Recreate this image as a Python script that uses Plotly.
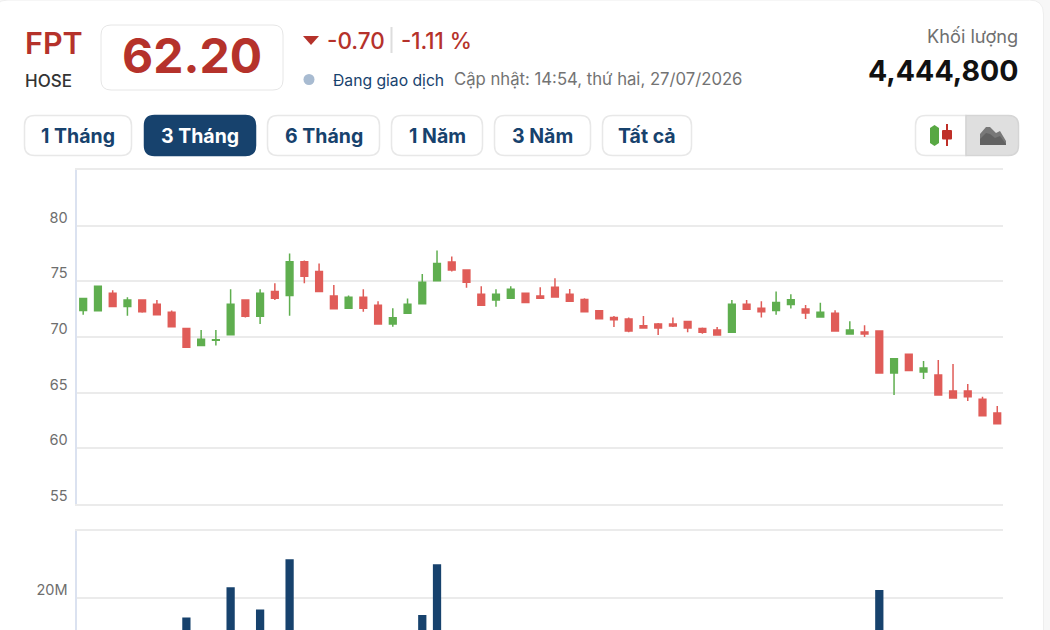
import plotly.graph_objects as go

W, H = 1050, 630

# Daily price sessions: green when close >= open, red otherwise
opens = [72.38, 72.35, 73.93, 72.74, 73.33, 72.95, 72.23, 70.77, 69.23, 69.70, 70.21, 73.33, 71.87, 74.08, 73.72,
         76.76, 75.89, 73.69, 72.59, 73.57, 72.86, 71.16, 72.14, 72.98, 75.06, 76.73, 76.01, 73.84, 73.33, 73.48,
         73.93, 73.69, 74.46, 73.84, 73.36, 72.35, 71.76, 71.61, 71.01, 71.16, 71.16, 71.40, 70.77, 70.63, 70.42,
         72.95, 72.59, 72.38, 72.93, 72.51, 71.80, 72.13, 70.27, 70.45, 70.54, 66.77, 68.44, 66.86, 66.59, 65.15,
         65.15, 64.40, 63.17]
highs = [73.45, 74.55, 74.20, 73.57, 73.33, 73.33, 72.38, 70.77, 70.63, 70.63, 74.29, 73.33, 74.29, 74.82, 77.50,
         76.88, 76.60, 74.67, 73.72, 74.29, 73.21, 72.59, 73.45, 75.65, 77.77, 77.23, 76.01, 74.55, 74.29, 74.55,
         73.93, 74.46, 75.27, 74.32, 73.48, 72.35, 71.88, 71.76, 71.88, 71.25, 71.76, 71.40, 70.86, 70.89, 73.33,
         73.33, 73.21, 74.08, 73.83, 72.87, 73.08, 72.40, 71.41, 71.05, 70.54, 68.05, 68.44, 67.84, 67.93, 67.57,
         65.78, 64.64, 63.80]
lows = [72.00, 72.35, 72.74, 71.90, 72.17, 72.00, 70.92, 69.08, 69.23, 69.23, 70.21, 71.76, 71.16, 73.33, 71.90,
        74.82, 74.08, 72.53, 72.59, 72.26, 71.16, 70.92, 72.14, 72.98, 75.06, 75.89, 74.43, 72.86, 72.71, 73.48,
        73.10, 73.48, 73.60, 73.21, 72.26, 71.64, 70.89, 70.42, 70.80, 70.18, 70.89, 70.42, 70.30, 70.18, 70.42,
        72.50, 71.76, 72.00, 72.57, 71.62, 71.80, 70.54, 70.27, 70.00, 66.77, 64.79, 66.98, 66.23, 64.79, 64.52,
        64.25, 62.93, 62.20]
closes = [73.45, 74.55, 72.74, 73.33, 72.26, 72.00, 70.92, 69.08, 69.79, 69.76, 72.95, 71.87, 73.93, 73.48, 76.76,
          75.45, 74.08, 72.53, 73.57, 72.59, 71.16, 71.73, 72.95, 74.91, 76.60, 76.01, 74.91, 72.86, 73.84, 74.29,
          73.10, 73.48, 73.60, 73.21, 72.26, 71.64, 71.55, 70.54, 70.80, 70.80, 70.98, 70.80, 70.42, 70.18, 72.95,
          72.50, 72.26, 73.10, 73.35, 72.16, 72.22, 70.54, 70.63, 70.27, 66.77, 68.05, 66.98, 67.22, 64.79, 64.52,
          64.64, 62.93, 62.20]
sessions = list(range(len(closes)))

# Volume sessions tall enough to rise into the visible part of the lower pane
volume_sessions = [7, 10, 12, 14, 23, 24, 54]
volumes = [14.2e6, 23.2e6, 16.6e6, 31.6e6, 14.9e6, 30.1e6, 22.4e6]

price_ticks = [55, 60, 65, 70, 75, 80]
price_labels = ["55", "60", "65", "70", "75", "80"]
volume_ticks = [20e6]
volume_labels = ["20M"]

periods = ["1 Tháng", "3 Tháng", "6 Tháng", "1 Năm", "3 Năm", "Tất cả"]
period_lefts = [24, 144, 267, 391, 494, 602]
period_rights = [132, 256, 380, 483, 591, 692]

NAVY = "#17426d"
RED = "#b5322b"
UP = "#5fae4f"
DOWN = "#e05c58"
GRID = "#ebebeb"
AXIS = "#dbe2f0"


def px(x):
    return x / W


def py(y):
    return 1 - y / H


def rounded(x0, y0, x1, y1, r, corners="tl tr br bl"):
    """SVG path of a rectangle given in page pixels, with selected corners rounded."""
    c = corners.split()
    rt = r if "tl" in c else 0
    rr = r if "tr" in c else 0
    rb = r if "br" in c else 0
    rl = r if "bl" in c else 0
    return (f"M{px(x0 + rt)},{py(y0)} L{px(x1 - rr)},{py(y0)} Q{px(x1)},{py(y0)} {px(x1)},{py(y0 + rr)} "
            f"L{px(x1)},{py(y1 - rb)} Q{px(x1)},{py(y1)} {px(x1 - rb)},{py(y1)} "
            f"L{px(x0 + rl)},{py(y1)} Q{px(x0)},{py(y1)} {px(x0)},{py(y1 - rl)} "
            f"L{px(x0)},{py(y0 + rt)} Q{px(x0)},{py(y0)} {px(x0 + rt)},{py(y0)} Z")


def poly(points):
    return "M" + " L".join(f"{px(x)},{py(y)}" for x, y in points) + " Z"


shapes = []


def add_path(path, fill, line=None, width=1, layer="below"):
    shapes.append(dict(type="path", xref="paper", yref="paper", path=path, fillcolor=fill,
                       line=dict(color=line or "rgba(0,0,0,0)", width=width if line else 0), layer=layer))


annotations = []
# Annotation boxes carry a small inner padding; compensate so x is the ink edge
PAD = {"left": -2.5, "center": 0, "right": 2}


def add_text(x, y, text, size, color, weight=400, anchor="left", family="Inter"):
    annotations.append(dict(xref="paper", yref="paper", x=px(x + PAD[anchor]), y=py(y), text=text, showarrow=False,
                            xanchor=anchor, yanchor="middle", align=anchor,
                            font=dict(family=family, size=size, color=color, weight=weight)))


# Card surface behind everything
add_path(rounded(-6, 0, 1043.5, H + 20, 14), "#ffffff", "#eeeeee", 1)

# Price tile
add_path(rounded(101, 25, 283, 90, 10), "#ffffff", "#e6e6e6", 1)

# Change triangle, separator, status dot
add_path(poly([(303, 36), (319, 36), (311, 45)]), RED)
shapes.append(dict(type="line", xref="paper", yref="paper", x0=px(391.5), x1=px(391.5), y0=py(27), y1=py(53),
                   line=dict(color="#dddddd", width=2), layer="below"))
shapes.append(dict(type="circle", xref="paper", yref="paper", x0=px(303.5), x1=px(314.5), y0=py(85), y1=py(74),
                   fillcolor="#a8bbd1", line=dict(width=0), layer="below"))

# Period buttons
for i, (label, left, right) in enumerate(zip(periods, period_lefts, period_rights)):
    active = i == 1
    add_path(rounded(left + 0.5, 115.5, right - 0.5, 155.5, 10), NAVY if active else "#ffffff",
             NAVY if active else "#e8e8e8", 1.5)
    add_text((left + right) / 2, 136, label, 19.5, "#ffffff" if active else NAVY, 700, "center")

# Chart type toggle: candlestick icon on the left, mountain icon on the right
add_path(rounded(915.5, 115.5, 966, 155.5, 10, "tl bl"), "#ffffff", "#e8e8e8", 1.5)
add_path(rounded(966, 115.5, 1018.5, 155.5, 10, "tr br"), "#dfdfdf", "#d5d5d5", 1.5)
add_path(poly([(930, 128), (934.5, 125), (939, 128), (939, 143), (934.5, 146), (930, 143)]), "#58a843")
add_path(rounded(942, 130, 952, 139.5, 1), "#bf2f28")
add_path(poly([(946, 124), (948, 124), (948, 146), (946, 146)]), "#bf2f28")
add_path(poly([(980, 145), (980, 134), (986, 127), (990, 127), (996, 133), (1000, 131), (1006, 141), (1006, 145)]),
         "#787878")
add_path(poly([(980, 145), (980, 139), (986, 133), (990, 134), (995, 138), (1000, 136), (1006, 144), (1006, 145)]),
         "#626262")

add_text(25, 43, "FPT", 30.5, RED, 600)
add_text(25, 81, "HOSE", 17, "#333333", 500)
add_text(192, 55, "62.20", 48, RED, 700, "center")
add_text(327, 40, "-0.70", 22.5, RED, 500)
add_text(401, 40, "-1.11 %", 22.3, RED, 500)
add_text(333, 80, "Đang giao dịch", 15.7, NAVY, 400)
add_text(454, 79, "Cập nhật: 14:54, thứ hai, 27/07/2026", 16.7, "#737373", 400)
add_text(1018, 36, "Khối lượng", 18.2, "#6f6f6f", 400, "right")
add_text(1018, 70, "4,444,800", 28.5, "#111111", 700, "right")

fig = go.Figure()
fig.add_trace(go.Candlestick(
    x=sessions, open=opens, high=highs, low=lows, close=closes, xaxis="x", yaxis="y",
    increasing=dict(line=dict(color=UP, width=1.5), fillcolor=UP),
    decreasing=dict(line=dict(color=DOWN, width=1.5), fillcolor=DOWN),
    whiskerwidth=0, hoverinfo="skip", showlegend=False,
))
fig.add_trace(go.Bar(
    x=volume_sessions, y=volumes, xaxis="x2", yaxis="y2", width=0.56,
    marker=dict(color=NAVY, line=dict(width=0)), hoverinfo="skip", showlegend=False,
))

x_range = [-0.454, 62.39]
x_domain = [px(76.5), px(1003)]
# The x axes draw only the horizontal edges of each pane
hidden_x = dict(range=x_range, domain=x_domain, showgrid=False, zeroline=False, showticklabels=False,
                ticks="", showline=True, mirror=True, linecolor=GRID, linewidth=1.5, automargin=False, fixedrange=True)
tick_font = dict(family="Inter", size=14.5, color="#6e6e6e")
y_common = dict(gridcolor=GRID, gridwidth=2, zeroline=False, showline=True, linecolor=AXIS, linewidth=2,
                ticks="", ticklabelstandoff=4, ticklabelshift=-8, tickfont=tick_font, automargin=False,
                fixedrange=True)

fig.update_layout(
    width=W, height=H, autosize=False,
    margin=dict(l=0, r=0, t=0, b=0, pad=0),
    paper_bgcolor="#f7f7f7", plot_bgcolor="rgba(0,0,0,0)",
    boxgap=0.35,
    shapes=shapes, annotations=annotations,
    xaxis=dict(**hidden_x, anchor="y", rangeslider=dict(visible=False)),
    xaxis2=dict(**hidden_x, anchor="y2"),
    yaxis=dict(domain=[py(504), py(170)], range=[55, 85], tickvals=price_ticks, ticktext=price_labels,
               anchor="x", **y_common),
    yaxis2=dict(domain=[0, py(531)], range=[10.45e6, 40e6], tickvals=volume_ticks, ticktext=volume_labels,
                anchor="x2", **y_common),
)

fig.write_html("out.html", config=dict(displayModeBar=False))
